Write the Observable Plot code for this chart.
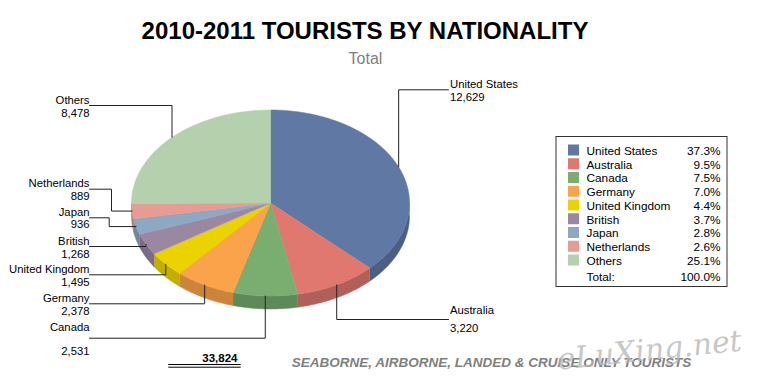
<!DOCTYPE html>
<html><head><meta charset="utf-8">
<script src="https://cdn.jsdelivr.net/npm/d3@7"></script>
<script src="https://cdn.jsdelivr.net/npm/@observablehq/plot@0.6"></script>
<style>body{margin:0;background:#fff;} svg{display:block;}</style>
</head><body><div id="chart"></div>
<script>
// ---- data ----
const categories = ["United States","Australia","Canada","Germany","United Kingdom","British","Japan","Netherlands","Others"];
const tourists = [12629, 3220, 2531, 2378, 1495, 1268, 936, 889, 8478];
const topColors = ["#6079A4","#E07870","#7AAE71","#FBA34B","#EAD300","#9A88A2","#8EA7C3","#E69C93","#B5D0AD"];
const sideColors = ["#4B5F85","#B05F59","#5E8A59","#CC843B","#C3AE00","#7B6B84","#71869D","#B97C75","#8FA588"];
const titleText = "2010-2011 TOURISTS BY NATIONALITY";
const subtitleText = "Total";
const footerText = "SEABORNE, AIRBORNE, LANDED & CRUISE ONLY TOURISTS";
const watermarkText = "eLuXing.net";
const totalLabel = "Total:";

// ---- layout (pixels) ----
const pie = {cx: 270, cy: 202.5, rx: 139, ry: 93, depth: 13};
const labelSide   = ["right","right","left","left","left","left","left","left","left"];
const labelLineY  = [89.3, 319, 337.7, 303.3, 274.3, 246, 217.3, 188.7, 105];
const labelElbowX = [null, null, null, null, null, null, 108.7, 111, null];
const nameDy  = [-2, -5.7, -7, -2, -2, -2, -2, -2, -2];
const valueDy = [11.4, 12.7, 17, 11, 11, 11, 10.5, 10.5, 11];
const leftLabelX = 89, rightLabelX = 448;
const legend = {x1: 556, x2: 727, y1: 136.5, y2: 286.5, row0: 150, rowStep: 13.75, swX: 568, sw: 11, textX: 586, pctX: 720};

// ---- geometry from data ----
const total = d3.sum(tourists);
const fmt = d3.format(",");
const pct = v => (v / total * 100).toFixed(1) + "%";
let acc = 0;
const slices = categories.map((name, i) => {
  const a0 = acc / total * 2 * Math.PI;
  acc += tourists[i];
  const a1 = acc / total * 2 * Math.PI;
  return {name, i, value: tourists[i], a0, a1, mid: (a0 + a1) / 2};
});
const pt = (a, dy = 0) => [pie.cx + pie.rx * Math.sin(a), pie.cy - pie.ry * Math.cos(a) + dy];
function arc(a0, a1, dy = 0) {
  const n = Math.max(2, Math.ceil((a1 - a0) / (Math.PI / 360)));
  return d3.range(n + 1).map(j => pt(a0 + (a1 - a0) * j / n, dy));
}

const topRows = [];
slices.forEach(s => {
  const pts = [[pie.cx, pie.cy], ...arc(s.a0, s.a1), [pie.cx, pie.cy]];
  pts.forEach(([x, y]) => topRows.push({x, y, k: s.i, c: topColors[s.i]}));
});
const sideRows = [];
slices.forEach(s => {
  const s0 = Math.max(s.a0, Math.PI / 2), s1 = Math.min(s.a1, 3 * Math.PI / 2);
  if (s1 <= s0) return;
  const pts = [...arc(s0, s1), ...arc(s0, s1, pie.depth).reverse()];
  pts.forEach(([x, y]) => sideRows.push({x, y, k: s.i, c: sideColors[s.i]}));
});

const leaderRows = [];
const leftLabels = [], rightLabels = [];
slices.forEach(s => {
  const i = s.i;
  const [ax, ay] = pt(s.mid);
  const ex = labelElbowX[i] ?? ax;
  const ly = labelLineY[i];
  const lx = labelSide[i] === "left" ? leftLabelX : rightLabelX;
  [[ax, ay], [ex, ay], [ex, ly], [lx, ly]].forEach(([x, y]) => leaderRows.push({x, y, k: i}));
  const target = labelSide[i] === "left" ? leftLabels : rightLabels;
  const tx = labelSide[i] === "left" ? leftLabelX : rightLabelX + 1.5;
  target.push({x: tx, y: ly + nameDy[i], t: s.name});
  target.push({x: tx, y: ly + valueDy[i], t: fmt(s.value)});
});

const legendRows = slices.map(s => ({
  y: legend.row0 + s.i * legend.rowStep, name: s.name, p: pct(s.value), c: topColors[s.i]
}));
const totalRowY = legend.row0 + slices.length * legend.rowStep + 2;

const font = "'Liberation Sans', Arial, Helvetica, sans-serif";
const chart = Plot.plot({
  width: 757, height: 385,
  margin: 0,
  x: {domain: [0, 757], range: [0, 757], axis: null},
  y: {domain: [0, 385], range: [0, 385], axis: null},
  color: {type: "identity"},
  style: {fontFamily: font, background: "#fff", overflow: "visible"},
  marks: [
    // title & subtitle
    Plot.text([titleText], {x: 364.5, y: 38.3, text: d => d, fontSize: 24, fontWeight: "bold", lineAnchor: "bottom", fill: "#000"}),
    Plot.text([subtitleText], {x: 365, y: 63.3, text: d => d, fontSize: 16, lineAnchor: "bottom", fill: "#7f7f7f"}),
    // pie
    Plot.line(sideRows, {x: "x", y: "y", z: "k", fill: "c", stroke: "c", strokeWidth: 0.5, curve: "linear"}),
    Plot.line(topRows, {x: "x", y: "y", z: "k", fill: "c", stroke: "c", strokeWidth: 0.5, curve: "linear"}),
    // leaders
    Plot.line(leaderRows, {x: "x", y: "y", z: "k", stroke: "#222", strokeWidth: 1, curve: "linear"}),
    Plot.text(leftLabels, {x: "x", y: "y", text: "t", textAnchor: "end", lineAnchor: "bottom", fontSize: 11.3, fill: "#000"}),
    Plot.text(rightLabels, {x: "x", y: "y", text: "t", textAnchor: "start", lineAnchor: "bottom", fontSize: 11.3, fill: "#000"}),
    // legend
    Plot.rect([legend], {x1: "x1", x2: "x2", y1: "y1", y2: "y2", fill: "none", stroke: "#333", strokeWidth: 1}),
    Plot.rect(legendRows, {x1: legend.swX, x2: legend.swX + legend.sw, y1: d => d.y - legend.sw / 2, y2: d => d.y + legend.sw / 2, fill: "c"}),
    Plot.text(legendRows, {x: legend.textX, y: d => d.y + 4.3, text: "name", textAnchor: "start", lineAnchor: "bottom", fontSize: 11.8, fill: "#000"}),
    Plot.text(legendRows, {x: legend.pctX, y: d => d.y + 4.3, text: "p", textAnchor: "end", lineAnchor: "bottom", fontSize: 11.8, fill: "#000"}),
    Plot.text([totalLabel], {x: legend.textX, y: totalRowY + 4.3, text: d => d, textAnchor: "start", lineAnchor: "bottom", fontSize: 11.8, fill: "#000"}),
    Plot.text([pct(total)], {x: legend.pctX, y: totalRowY + 4.3, text: d => d, textAnchor: "end", lineAnchor: "bottom", fontSize: 11.8, fill: "#000"}),
    // grand total with double underline
    Plot.text([fmt(total)], {x: 237, y: 361.7, text: d => d, textAnchor: "end", lineAnchor: "bottom", fontSize: 11.5, fontWeight: "bold", fill: "#000"}),
    Plot.ruleY([364, 366.7], {x1: 168.3, x2: 240.7, stroke: "#000", strokeWidth: 1}),
    // footer & watermark
    Plot.text([footerText], {x: 491, y: 366.7, text: d => d, textAnchor: "middle", lineAnchor: "bottom", fontSize: 13.5, fontWeight: "bold", fontStyle: "italic", fill: "#808080"}),
    Plot.text([watermarkText], {x: 649, y: 350, text: d => d, textAnchor: "middle", fontSize: 30, fontStyle: "italic", fontFamily: "'DejaVu Serif', serif", fill: "#b8b8b8", fillOpacity: 0.8, rotate: -6})
  ]
});
document.getElementById("chart").appendChild(chart);
</script>
</body></html>
